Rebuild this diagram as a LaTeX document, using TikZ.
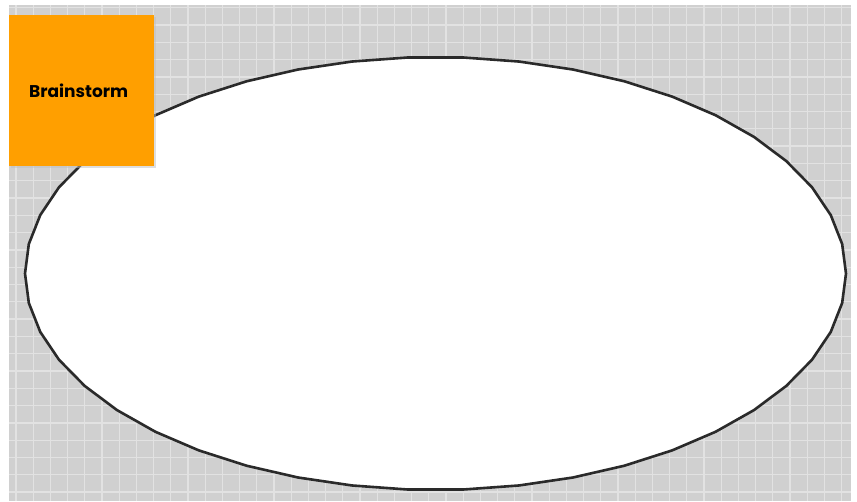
\documentclass[tikz,border=0pt]{standalone}
\usepackage{fontspec}
\setsansfont{Poppins}
\usepackage{xcolor}
\usepackage{tikz}
\usetikzlibrary{positioning,calc}
\definecolor{board}{HTML}{D0D0D0}
\definecolor{gridline}{HTML}{E2E2E2}
\definecolor{stroke}{HTML}{2A2A2A}
\definecolor{sticky}{HTML}{FF9F00}
\tikzset{
  notebox/.style={fill=sticky,minimum width=145pt,minimum height=151pt,inner sep=0pt},
  notetext/.style={font=\sffamily\bfseries\fontsize{17}{20}\selectfont,text=black},
  ring/.style={draw=stroke,line width=2.6pt,fill=white,line join=round}
}

\begin{document}
\begin{tikzpicture}[x=1pt,y=-1pt]
  \useasboundingbox (0,0) rectangle (857,501);
  % board with grid
  \fill[board] (9,5) rectangle (851,501);
  \foreach \i in {0,...,48}{
    \draw[gridline,line width=1.3pt] (16+17.2*\i,5) -- (16+17.2*\i,501);}
  \foreach \j in {0,...,28}{
    \draw[gridline,line width=1.3pt] (9,7.7+17.3*\j) -- (851,7.7+17.3*\j);}
  \fill[white] (851,0) rectangle (857,501);
  % the big ellipse
  \draw[ring] plot[domain=0:360,samples=47] ({435.5+410.5*cos(\x)},{273.5+216.5*sin(\x)}) -- cycle;
  % sticky note
  \fill[black!25,opacity=0.5] (11,17) rectangle (156,168);
  \node[notebox,anchor=north west] (note) at (9,15) {};
  \node[notetext] (label) at ($(note.center)+(-3,0)$) {Brainstorm};
\end{tikzpicture}
\end{document}
